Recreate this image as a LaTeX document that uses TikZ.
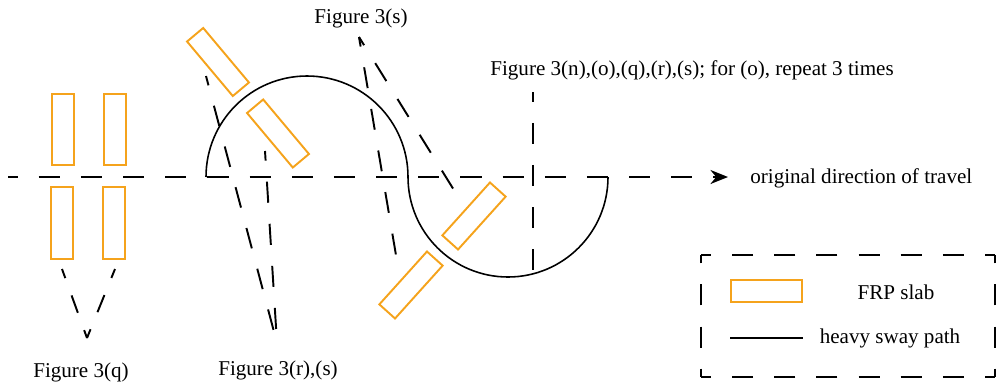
\documentclass[tikz,border=0pt]{standalone}
\usepackage{fontspec}
\setmainfont{Liberation Serif}
\usetikzlibrary{arrows.meta}
\definecolor{frp}{RGB}{245,163,28}
\begin{document}
\begin{tikzpicture}[x=0.02cm,y=-0.02cm,
  slab/.style={draw=frp, line width=1.1pt, minimum width=12pt, minimum height=40.5pt, inner sep=0pt, outer sep=0pt},
  guide/.style={line width=1.1pt, dash pattern=on 12pt off 12pt, dash phase=6.5pt},
  shortguide/.style={line width=1.1pt, dash pattern=on 10.5pt off 10.5pt, dash phase=5pt},
  frame/.style={line width=1.1pt, dash pattern=on 12pt off 12pt, dash phase=18pt},
  sway/.style={line width=0.9pt},
  lbl/.style={inner sep=0pt, font=\fontsize{12}{14}\selectfont}]
\useasboundingbox (0,0) rectangle (1000,386);

% slabs
\node[slab] (q1) at (63,129.5) {};
\node[slab] (q2) at (115,129.5) {};
\node[slab] (q3) at (62,223) {};
\node[slab] (q4) at (114,223) {};
\node[slab, rotate=40] (r1) at (218,62) {};
\node[slab, rotate=40] (r2) at (278,133.5) {};
\node[slab, rotate=-42] (t1) at (474,216) {};
\node[slab, rotate=-42] (t2) at (411,285) {};

% labels
\node[lbl] (labq) at (81,372) {Figure 3(q)};
\node[lbl] (labrs) at (278,370) {Figure 3(r),(s)};
\node[lbl] (labs) at (361,18) {Figure 3(s)};
\node[lbl, anchor=west] (labn) at (490,70) {Figure 3(n),(o),(q),(r),(s); for (o), repeat 3 times};
\node[lbl, anchor=west] (labdir) at (750,178) {original direction of travel};

% guide lines
\coordinate (tq) at (87,338);
\coordinate (q3b) at (62,269);
\coordinate (q4b) at (115,269);
\draw[shortguide] (q3b) -- (tq);
\draw[shortguide] (q4b) -- (tq);

\coordinate (trs) at (277,343);
\coordinate (r1b) at (206,76);
\coordinate (r2b) at (265,151);
\draw[guide] (r1b) -- (trs);
\draw[guide] (r2b) -- (trs);

\coordinate (ts) at (359,37);
\coordinate (t2b) at (398,267);
\coordinate (t1b) at (462,203);
\draw[guide] (ts) -- (t2b);
\draw[guide] (ts) -- (t1b);

% main direction line
\coordinate (h0) at (8,177);
\coordinate (h1) at (728,177);
\draw[guide, -{Stealth[length=10pt,width=8pt]}] (h0) -- (h1);

% vertical line
\coordinate (v0) at (533,92);
\coordinate (v1) at (533,273.5);
\draw[guide] (v0) -- (v1);

% sway path
\draw[sway] (206,177) .. controls (206,121.2) and (251.2,76) .. (307,76)
  .. controls (362.8,76) and (408,121.2) .. (408,177)
  .. controls (408,232.2) and (452.8,277) .. (508,277)
  .. controls (563.2,277) and (608,232.2) .. (608,177);

% legend frame (each side symmetric about its midpoint)
\coordinate (ctl) at (701,255);
\coordinate (ctr) at (995,255);
\coordinate (cbl) at (701,377);
\coordinate (cbr) at (995,377);
\coordinate (mt) at (848,255);
\coordinate (mb) at (848,377);
\coordinate (ml) at (701,316);
\coordinate (mr) at (995,316);
\draw[frame] (mt) -- (ctl);
\draw[frame] (mt) -- (ctr);
\draw[frame] (mb) -- (cbl);
\draw[frame] (mb) -- (cbr);
\draw[frame] (ml) -- (ctl);
\draw[frame] (ml) -- (cbl);
\draw[frame] (mr) -- (ctr);
\draw[frame] (mr) -- (cbr);

\node[slab, minimum width=40.5pt, minimum height=12pt] (legslab) at (766.5,291) {};
\node[lbl] (legslabt) at (896,292) {FRP slab};
\coordinate (ll0) at (730,338);
\coordinate (ll1) at (803,338);
\draw[sway] (ll0) -- (ll1);
\node[lbl] (legswayt) at (890,338) {heavy sway path};
\end{tikzpicture}
\end{document}
